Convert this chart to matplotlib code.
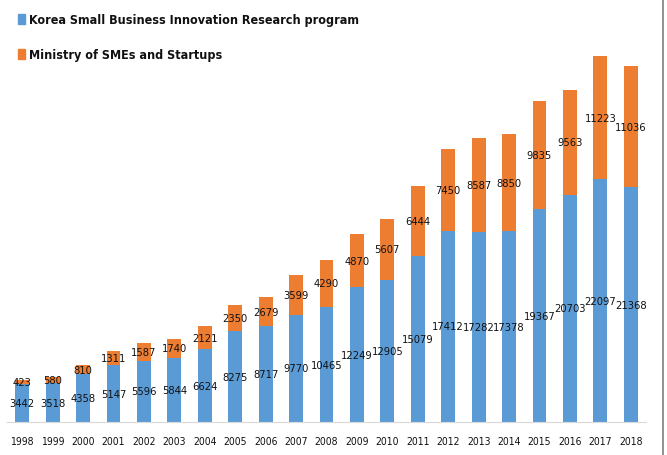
import matplotlib
matplotlib.use("Agg")
import matplotlib.pyplot as plt
from matplotlib.patches import Patch
from matplotlib.lines import Line2D

years = [str(y) for y in range(1998, 2019)]
kosbir = [3442, 3518, 4358, 5147, 5596, 5844, 6624, 8275, 8717, 9770, 10465,
          12249, 12905, 15079, 17412, 17282, 17378, 19367, 20703, 22097, 21368]
mss = [423, 580, 810, 1311, 1587, 1740, 2121, 2350, 2679, 3599, 4290,
       4870, 5607, 6444, 7450, 8587, 8850, 9835, 9563, 11223, 11036]

BLUE = "#5b9bd5"
ORANGE = "#ed7d31"
FONT = "DejaVu Sans"
STRETCH = "condensed"

W, H = 667, 456
fig = plt.figure(figsize=(W / 100, H / 100), dpi=100)
ax = fig.add_axes([7 / W, (H - 423) / H, 639 / W, 413 / H])

x = range(len(years))
ax.bar(x, kosbir, width=0.46, color=BLUE)
ax.bar(x, mss, width=0.46, bottom=kosbir, color=ORANGE)

for i in x:
    ax.text(i, kosbir[i] / 2, str(kosbir[i]), ha="center", va="center",
            fontsize=8, family=FONT, stretch=STRETCH, color="#111111")
    ax.text(i, kosbir[i] + mss[i] / 2, str(mss[i]), ha="center", va="center",
            fontsize=8, family=FONT, stretch=STRETCH, color="#111111")

top = kosbir[19] + mss[19]
ax.set_ylim(0, top * 413 / 366)
ax.set_xlim(-0.5, len(years) - 0.5)
ax.set_xticks(list(x))
ax.set_xticklabels(years, family=FONT, stretch=STRETCH, fontsize=7.5, color="#111111")
ax.tick_params(axis="x", length=0, pad=10)
ax.set_yticks([])
for s in ["left", "right", "top"]:
    ax.spines[s].set_visible(False)
ax.spines["bottom"].set_color("#d9d9d9")

handles = [Patch(color=BLUE), Patch(color=ORANGE)]
labels = ["Korea Small Business Innovation Research program",
          "Ministry of SMEs and Startups"]
fig.legend(handles, labels, loc="upper left", bbox_to_anchor=(7 / W, 1 - 3 / H),
           frameon=False, handlelength=0.55, handleheight=0.8, handletextpad=0.3,
           labelspacing=1.75,
           prop={"family": FONT, "stretch": STRETCH, "size": 9, "weight": "bold"},
           labelcolor="#111111")

fig.add_artist(Line2D([663 / W, 663 / W], [0, 1], transform=fig.transFigure,
                      color="#7f7f7f", lw=1.2))

fig.savefig("out.png", dpi=100)
